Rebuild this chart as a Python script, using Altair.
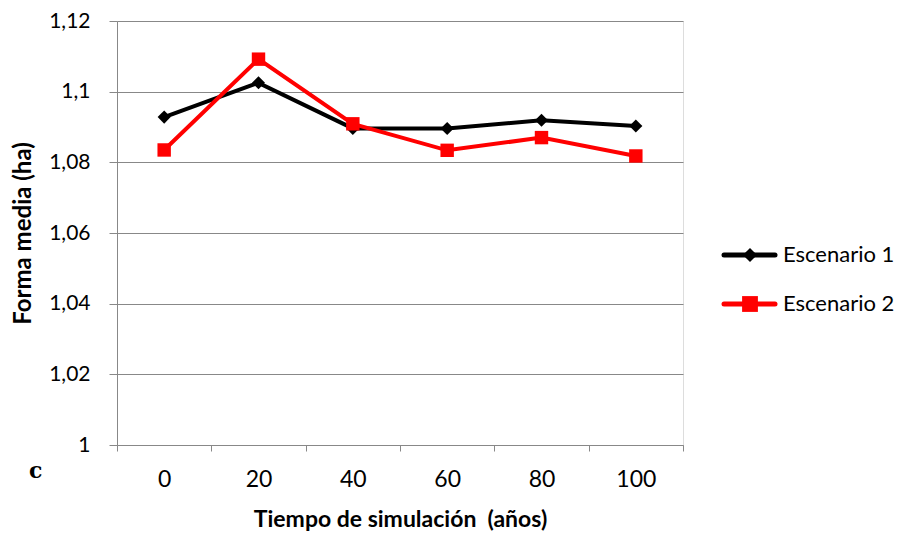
import altair as alt
import pandas as pd

years = [0, 20, 40, 60, 80, 100]
series_names = ["Escenario 1", "Escenario 2"]
esc1 = [1.0928, 1.1025, 1.0896, 1.0896, 1.0919, 1.0903]
esc2 = [1.0835, 1.1092, 1.0909, 1.0834, 1.0870, 1.0818]
y_ticks = [1.0, 1.02, 1.04, 1.06, 1.08, 1.10, 1.12]
colors = ["#000000", "#FF0000"]
shapes = ["diamond", "square"]
sizes = [170, 180]
leg_sizes = [200, 250]

W, H = 566, 424
FONT = "Lato"

rows = []
for name, vals in zip(series_names, [esc1, esc2]):
    for yr, v in zip(years, vals):
        rows.append({"year": yr, "value": v, "series": name})
df = pd.DataFrame(rows)

xscale = alt.Scale(domain=[-10, 110], nice=False)
yscale = alt.Scale(domain=[1.0, 1.12], nice=False, zero=False)

xaxis = alt.Axis(
    values=[-10, 10, 30, 50, 70, 90, 110],
    labelExpr="datum.value >= 110 ? '' : format(datum.value + 10, 'd')",
    labelOffset=W / 12, labelFlush=False, labelAlign="center",
    grid=False, tickSize=6, tickColor="#888888", domainColor="#888888",
    labelFont=FONT, labelFontSize=23, labelColor="#000000", labelPadding=17,
    title="Tiempo de simulación\u00a0 (años)", titleFont=FONT, titleFontSize=23,
    titleFontWeight="bold", titleColor="#000000", titlePadding=17,
)
yaxis = alt.Axis(
    values=y_ticks,
    labelExpr="replace(format(datum.value, '.2~f'), '.', ',')",
    grid=True, gridColor="#888888", gridWidth=1,
    tickSize=8, tickColor="#888888", domainColor="#888888",
    labelFont=FONT, labelFontSize=21, labelColor="#000000", labelPadding=19,
    title="Forma media (ha)", titleFont=FONT, titleFontSize=24,
    titleFontWeight="bold", titleColor="#000000", titlePadding=13,
)

layers = []
for i, name in enumerate(series_names):
    sub = df[df["series"] == name]
    base = alt.Chart(sub)
    line = base.mark_line(color=colors[i], strokeWidth=4).encode(
        x=alt.X("year:Q", scale=xscale, axis=xaxis),
        y=alt.Y("value:Q", scale=yscale, axis=yaxis),
    )
    pts = base.mark_point(shape=shapes[i], filled=True, opacity=1,
                          color=colors[i], size=sizes[i]).encode(
        x=alt.X("year:Q", scale=xscale),
        y=alt.Y("value:Q", scale=yscale),
    )
    layers += [line, pts]

# manual legend
leg_df = pd.DataFrame({"series": series_names})
for i, name in enumerate(series_names):
    ly = 234 + i * 49
    d = alt.Chart(leg_df[leg_df["series"] == name])
    layers.append(d.mark_rule(color=colors[i], strokeWidth=5, strokeCap="round").encode(
        x=alt.value(607), x2=alt.value(658), y=alt.value(ly)))
    layers.append(d.mark_point(shape=shapes[i], filled=True, opacity=1,
                               color=colors[i], size=leg_sizes[i]).encode(
        x=alt.value(633), y=alt.value(ly)))
    layers.append(d.mark_text(align="left", baseline="middle", font=FONT,
                              fontSize=22, color="#000000").encode(
        x=alt.value(666), y=alt.value(ly), text="series:N"))

label_df = pd.DataFrame({"t": ["c"]})
layers.append(alt.Chart(label_df).mark_text(
    align="left", baseline="middle", font="DejaVu Serif", fontWeight="bold",
    fontSize=22, color="#000000").encode(
    x=alt.value(-88), y=alt.value(450), text="t:N"))

chart = alt.layer(*layers).properties(
    width=W, height=H,
    padding={"left": 3, "top": 2, "right": 5, "bottom": 0},
).configure_view(stroke=None).configure(background="#ffffff")

chart.save("out.html", embed_options={"renderer": "svg", "actions": False})
